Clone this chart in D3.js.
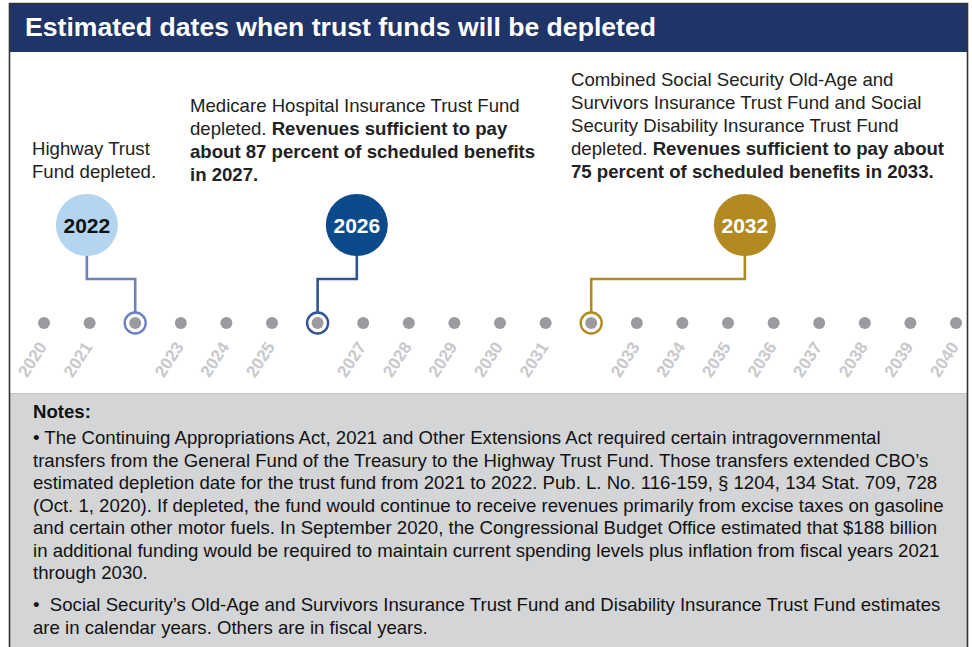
<!DOCTYPE html>
<html><head><meta charset="utf-8">
<script src="https://cdn.jsdelivr.net/npm/d3@7"></script>
<style>
html,body{margin:0;padding:0;background:#fff;}
svg{display:block;font-family:"Liberation Sans",Arial,sans-serif;}
</style></head>
<body>
<svg id="chart" width="972" height="647"></svg>
<script>
// ---- data ----
const title = "Estimated dates when trust funds will be depleted";
const years = d3.range(2020, 2041);
const milestoneYears = [2022, 2026, 2032];
const milestoneBubbleX = [2020.94, 2026.86, 2035.37]; // bubble position in year units
const milestoneNotes = [
  [[{t:"Highway Trust",b:false}],[{t:"Fund depleted.",b:false}]],
  [[{t:"Medicare Hospital Insurance Trust Fund",b:false}],
   [{t:"depleted. ",b:false},{t:"Revenues sufficient to pay",b:true}],
   [{t:"about 87 percent of scheduled benefits",b:true}],
   [{t:"in 2027.",b:true}]],
  [[{t:"Combined Social Security Old-Age and",b:false}],
   [{t:"Survivors Insurance Trust Fund and Social",b:false}],
   [{t:"Security Disability Insurance Trust Fund",b:false}],
   [{t:"depleted. ",b:false},{t:"Revenues sufficient to pay about",b:true}],
   [{t:"75 percent of scheduled benefits in 2033.",b:true}]]
];
const notesTitle = "Notes:";
const notesBullet1 = [
  "\u2022 The Continuing Appropriations Act, 2021 and Other Extensions Act required certain intragovernmental",
  "transfers from the General Fund of the Treasury to the Highway Trust Fund. Those transfers extended CBO\u2019s",
  "estimated depletion date for the trust fund from 2021 to 2022. Pub. L. No. 116-159, \u00a7 1204, 134 Stat. 709, 728",
  "(Oct. 1, 2020). If depleted, the fund would continue to receive revenues primarily from excise taxes on gasoline",
  "and certain other motor fuels. In September 2020, the Congressional Budget Office estimated that $188 billion",
  "in additional funding would be required to maintain current spending levels plus inflation from fiscal years 2021",
  "through 2030."
];
const notesBullet2 = [
  "\u2022\u00a0 Social Security\u2019s Old-Age and Survivors Insurance Trust Fund and Disability Insurance Trust Fund estimates",
  "are in calendar years. Others are in fiscal years."
];

// ---- styles ----
const bubbleFill = ["#b4d5ef", "#0b4b8c", "#b38a22"];
const bubbleText = ["#111", "#fff", "#fff"];
const lineColor = ["#6a82bd", "#2f5395", "#b38a22"];
const noteX = [32, 190, 571];
const noteY0 = [155, 112, 86];
const FS = 18.6;

const svg = d3.select("#chart");
const W = 972, H = 647;
const x = d3.scaleLinear().domain([2020, 2040]).range([44, 956]);
const yDot = 323, yBubble = 225, yElbow = 279, rBubble = 31;

svg.append("rect").attr("x",0).attr("y",0).attr("width",W).attr("height",H).attr("fill","#fff");
// notes panel
svg.append("rect").attr("x",10).attr("y",393).attr("width",957).attr("height",260).attr("fill","#d4d5d7");
svg.append("line").attr("x1",10).attr("x2",967).attr("y1",393.5).attr("y2",393.5).attr("stroke","#c6c7ca").attr("stroke-width",1);
// title bar
svg.append("rect").attr("x",10).attr("y",4).attr("width",957).attr("height",48).attr("fill","#1f3467");
// border
svg.append("path").attr("d","M9.5,660 V3.5 H967.5 V660").attr("fill","none").attr("stroke","#333").attr("stroke-width",1.6);

svg.append("text").attr("x",25).attr("y",36).attr("fill","#fff")
  .attr("font-size",26.6).attr("font-weight","bold").text(title);

// connectors
milestoneYears.forEach((yr,i)=>{
  const bx = x(milestoneBubbleX[i]), dx = x(yr);
  svg.append("path")
    .attr("d",`M${bx},${yBubble} V${yElbow} H${dx} V${yDot}`)
    .attr("fill","none").attr("stroke",lineColor[i]).attr("stroke-width",2.6);
});

// rings
svg.selectAll("circle.ring").data(milestoneYears).join("circle").attr("class","ring")
  .attr("cx",d=>x(d)).attr("cy",yDot).attr("r",10.5)
  .attr("fill","#fff").attr("stroke",(d,i)=>lineColor[i]).attr("stroke-width",2.4);

// dots
svg.selectAll("circle.dot").data(years).join("circle").attr("class","dot")
  .attr("cx",d=>x(d)).attr("cy",yDot).attr("r",6).attr("fill","#9b9b9f");

// year labels
svg.selectAll("text.yr").data(years.filter(y=>!milestoneYears.includes(y))).join("text")
  .attr("class","yr")
  .attr("transform",d=>`translate(${x(d)-1.5},${343.5}) rotate(-57)`)
  .attr("text-anchor","end").attr("dy","0.35em")
  .attr("font-size",17).attr("font-weight","bold").attr("fill","#c9c9cc")
  .text(d=>d);

// bubbles
milestoneYears.forEach((yr,i)=>{
  const bx = x(milestoneBubbleX[i]);
  svg.append("circle").attr("cx",bx).attr("cy",yBubble).attr("r",rBubble).attr("fill",bubbleFill[i]);
  svg.append("text").attr("x",bx).attr("y",yBubble).attr("dy","0.36em").attr("text-anchor","middle")
    .attr("font-size",21).attr("font-weight","bold").attr("fill",bubbleText[i]).text(yr);
});

// annotations
milestoneNotes.forEach((lines,i)=>{
  const t = svg.append("text").attr("font-size",FS).attr("fill","#222");
  lines.forEach((segs,j)=>{
    segs.forEach((s,k)=>{
      const ts = t.append("tspan").text(s.t).attr("font-weight",s.b?"bold":"normal");
      if(k===0) ts.attr("x",noteX[i]).attr("y",noteY0[i]+j*23);
    });
  });
});

// notes
svg.append("text").attr("x",33).attr("y",418).attr("font-size",FS).attr("font-weight","bold").attr("fill","#111").text(notesTitle);
const n1 = svg.append("text").attr("font-size",FS).attr("fill","#111");
notesBullet1.forEach((l,j)=>n1.append("tspan").attr("x",33).attr("y",444+j*22.5).text(l));
const n2 = svg.append("text").attr("font-size",FS).attr("fill","#111");
notesBullet2.forEach((l,j)=>n2.append("tspan").attr("x",33).attr("y",611+j*23).text(l));
</script>
</body></html>
